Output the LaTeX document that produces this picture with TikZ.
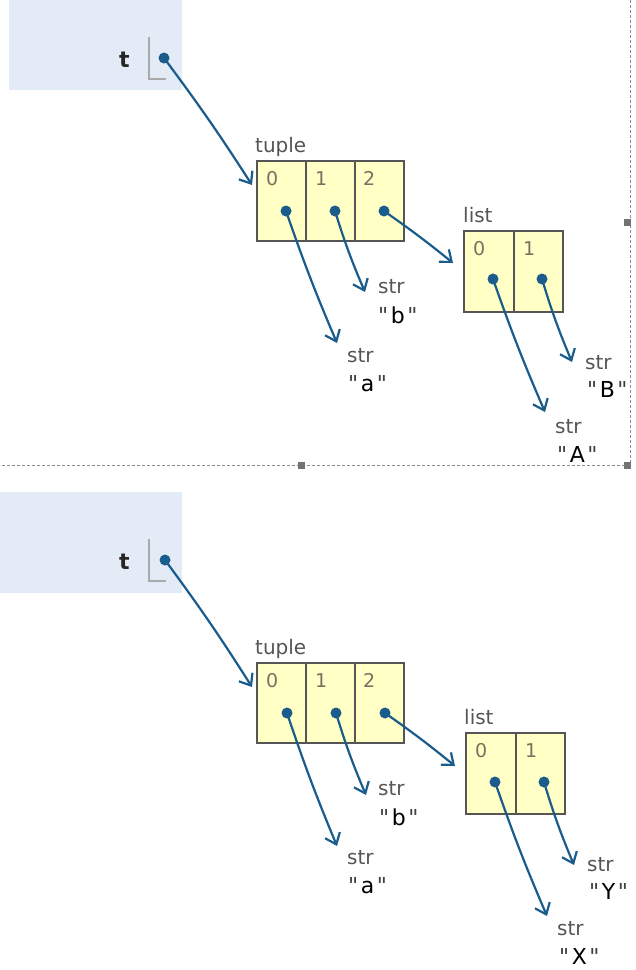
\documentclass[tikz,border=0pt]{standalone}
\usepackage{fontspec}
\setmainfont{DejaVu Sans}
\newfontfamily\plainfont{DejaVu Sans}
\usetikzlibrary{arrows.meta}
\definecolor{framebg}{HTML}{E2EBF6}
\definecolor{ptrblue}{HTML}{1A5C8C}
\definecolor{cellbg}{HTML}{FFFFC6}
\definecolor{cellline}{HTML}{555555}
\definecolor{lblgrey}{HTML}{555555}
\definecolor{idxgrey}{HTML}{7A7060}
\definecolor{brk}{HTML}{AAAAAA}
\tikzset{
  cell/.style={draw=cellline, line width=1.8pt, fill=cellbg, minimum width=49pt, minimum height=80pt, inner sep=0pt},
  dot/.style={circle, fill=ptrblue, inner sep=0pt, minimum size=11pt},
  ptr/.style={draw=ptrblue, line width=2.2pt, -{Straight Barb[length=10pt,width=16pt,line width=2.2pt]}},
  lbl/.style={anchor=base west, inner sep=0pt, text=lblgrey, font=\fontsize{20}{22}\selectfont},
  idx/.style={anchor=base west, inner sep=0pt, text=idxgrey, font=\fontsize{19}{22}\selectfont},
  strv/.style={anchor=base west, inner sep=0pt, text=black, font=\plainfont\fontsize{22}{24}\selectfont},
  varname/.style={anchor=base west, inner sep=0pt, text=black!85, font=\fontsize{22}{24}\selectfont\bfseries},
  brack/.style={draw=brk, line width=1.4pt},
  handle/.style={fill=black!55, draw=none},
  guide/.style={draw=black!45, line width=0.8pt, dash pattern=on 3pt off 2pt}
}
\newcommand{\qstr}[1]{{\color{black!75}"}\kern2.5pt#1\kern2.5pt{\color{black!75}"}}
\begin{document}
\begin{tikzpicture}[x=1pt,y=-1pt]
\useasboundingbox (0,0) rectangle (636,970);
\fill[white] (0,0) rectangle (636,970);

% ---------- Top panel ----------
\fill[framebg] (9,0) rectangle (182,90);
\node[varname] (tA) at (119,67) {t};
\draw[brack] (149,37) -- (149,79) -- (166,79);

\node[lbl] (tupA) at (255,152) {tuple};
\node[cell, anchor=north west] (A0) at (256,160) {};
\node[cell, anchor=north west] (A1) at (305,160) {};
\node[cell, anchor=north west] (A2) at (354,160) {};
\node[idx] (Ai0) at (266,185) {0};
\node[idx] (Ai1) at (315,185) {1};
\node[idx] (Ai2) at (363,185) {2};

\node[lbl] (lstA) at (463,222) {list};
\node[cell, anchor=north west, minimum width=50pt, minimum height=81pt] (L0A) at (463,230) {};
\node[cell, anchor=north west, minimum width=49pt, minimum height=81pt] (L1A) at (513,230) {};
\node[idx] (Li0A) at (473,255) {0};
\node[idx] (Li1A) at (523,255) {1};

\node[lbl] (saA) at (347,362) {str};
\node[strv] (vaA) at (348,391) {\qstr{a}};
\node[lbl] (sbA) at (378,293) {str};
\node[strv] (vbA) at (378,323) {\qstr{b}};
\node[lbl] (sXA) at (555,433) {str};
\node[strv] (vXA) at (557,462) {\qstr{A}};
\node[lbl] (sYA) at (585,369) {str};
\node[strv] (vYA) at (587,397) {\qstr{B}};

\coordinate (eTA) at (252,185);
\coordinate (eaA) at (337,343);
\coordinate (ebA) at (365,292);
\coordinate (elA) at (453,263);
\coordinate (eXA) at (545,412);
\coordinate (eYA) at (572,362);

\node[dot] (dtA) at (164,58) {};
\node[dot] (d0A) at (286,211) {};
\node[dot] (d1A) at (335,211) {};
\node[dot] (d2A) at (384,211) {};
\node[dot] (dl0A) at (493,279) {};
\node[dot] (dl1A) at (542,279) {};

\draw[ptr] (dtA.center) to[bend left=2] (eTA);
\draw[ptr] (d0A.center) to[bend right=2] (eaA);
\draw[ptr] (d1A.center) to[bend right=3] (ebA);
\draw[ptr] (d2A.center) to[bend left=2] (elA);
\draw[ptr] (dl0A.center) to[bend right=2] (eXA);
\draw[ptr] (dl1A.center) to[bend right=3] (eYA);

\draw[guide] (630,0) -- (630,465) -- (0,465);
\fill[handle] (623.5,218.5) rectangle (630.5,225.5);
\fill[handle] (297.5,461.5) rectangle (304.5,468.5);
\fill[handle] (623.5,461.5) rectangle (630.5,468.5);

% ---------- Bottom panel ----------
\fill[framebg] (0,492) rectangle (182,593);
\node[varname] (tB) at (119,569) {t};
\draw[brack] (149,539) -- (149,581) -- (166,581);

\node[lbl] (tupB) at (255,654) {tuple};
\node[cell, anchor=north west] (B0) at (256,662) {};
\node[cell, anchor=north west] (B1) at (305,662) {};
\node[cell, anchor=north west] (B2) at (354,662) {};
\node[idx] (Bi0) at (266,687) {0};
\node[idx] (Bi1) at (315,687) {1};
\node[idx] (Bi2) at (363,687) {2};

\node[lbl] (lstB) at (464,724) {list};
\node[cell, anchor=north west, minimum width=50pt, minimum height=81pt] (L0B) at (465,732) {};
\node[cell, anchor=north west, minimum width=49pt, minimum height=81pt] (L1B) at (515,732) {};
\node[idx] (Li0B) at (475,757) {0};
\node[idx] (Li1B) at (525,757) {1};

\node[lbl] (saB) at (347,864) {str};
\node[strv] (vaB) at (348,893) {\qstr{a}};
\node[lbl] (sbB) at (378,795) {str};
\node[strv] (vbB) at (379,825) {\qstr{b}};
\node[lbl] (sXB) at (557,935) {str};
\node[strv] (vXB) at (559,964) {\qstr{X}};
\node[lbl] (sYB) at (587,871) {str};
\node[strv] (vYB) at (589,899) {\qstr{Y}};

\coordinate (eTB) at (252,687);
\coordinate (eaB) at (337,846);
\coordinate (ebB) at (366,795);
\coordinate (elB) at (455,766);
\coordinate (eXB) at (547,916);
\coordinate (eYB) at (574,865);

\node[dot] (dtB) at (165,560) {};
\node[dot] (d0B) at (287,713) {};
\node[dot] (d1B) at (336,713) {};
\node[dot] (d2B) at (385,713) {};
\node[dot] (dl0B) at (495,782) {};
\node[dot] (dl1B) at (544,782) {};

\draw[ptr] (dtB.center) to[bend left=2] (eTB);
\draw[ptr] (d0B.center) to[bend right=2] (eaB);
\draw[ptr] (d1B.center) to[bend right=3] (ebB);
\draw[ptr] (d2B.center) to[bend left=2] (elB);
\draw[ptr] (dl0B.center) to[bend right=2] (eXB);
\draw[ptr] (dl1B.center) to[bend right=3] (eYB);
\end{tikzpicture}
\end{document}
